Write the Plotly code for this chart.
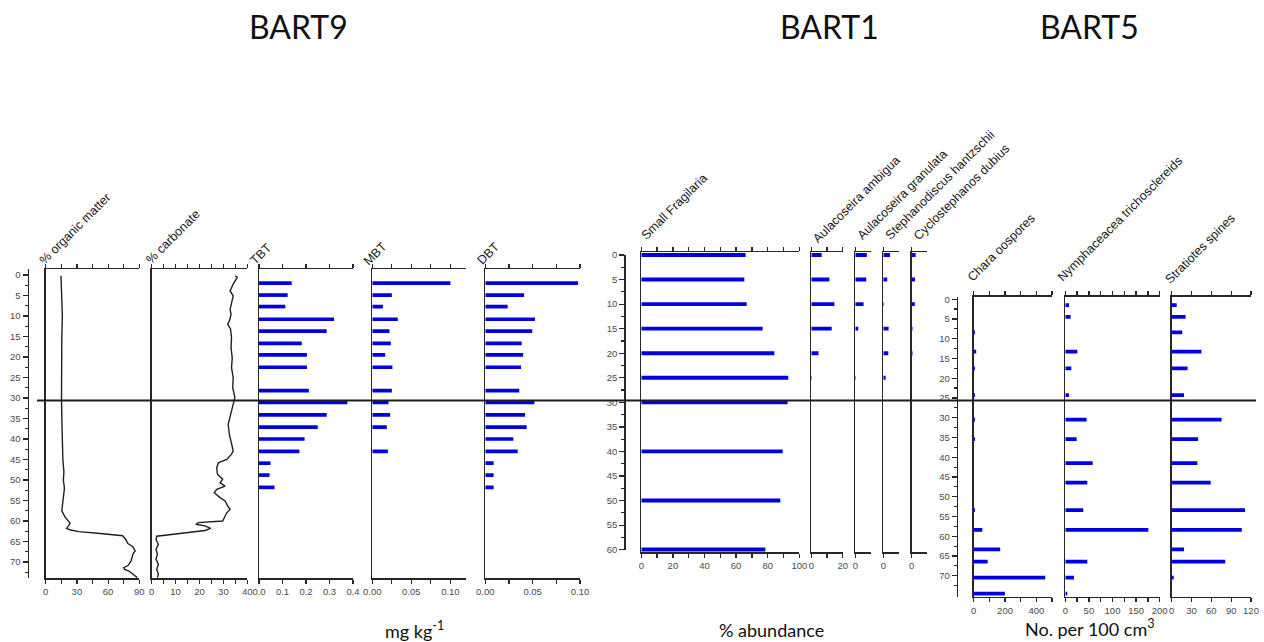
import plotly.graph_objects as go

W, H = 1264, 642

# ---------------- BART9: sediment composition and butyltins ----------------
om_depth = [0.2, 5, 10, 15, 20, 25, 30, 35, 40, 45, 48, 50, 52, 54, 56, 57.5, 59, 60.5, 61.2, 61.8,
            62.2, 62.6, 63.1, 63.6, 64.5, 65.5, 66.2, 67.3, 68, 69, 69.8, 70.8, 71.4, 71.8, 72.2, 73, 73.8]
om_pct = [14.7, 15, 16, 15.5, 15.2, 15.5, 15.2, 15.5, 15.8, 16.5, 17.5, 17, 18, 17.2, 16, 15.5, 18.5, 23.4, 22, 20,
          24, 32, 55, 74, 77, 79, 83.6, 86, 84, 82.6, 82, 79.4, 75, 76, 80, 84, 88]

carb_depth = [0.2, 0.6, 2.2, 3.9, 5.1, 6.7, 8.4, 9.6, 11.2, 12.0, 13.2, 15.3, 17.7, 20.2, 22.6, 25.0, 27.4, 29.9,
              31.5, 34.0, 36.4, 38.9, 41.3, 42.9, 43.7, 45.0, 45.8, 47.0, 48.6, 49.8, 50.7, 51.5, 52.3, 53.1,
              54.3, 55.1, 56.3, 57.2, 58.0, 59.2, 60.0, 60.4, 60.8, 61.2, 61.8, 62.3, 63.1, 63.7, 64.5, 65.7,
              66.9, 68.1, 69.3, 70.6, 71.8, 73.0, 73.8]
carb_pct = [35.0, 35.8, 34.1, 32.8, 34.1, 33.4, 32.8, 33.2, 32.5, 31.8, 33.0, 33.4, 33.2, 33.7, 33.4, 34.1, 33.9,
            34.8, 34.1, 32.8, 32.0, 32.5, 33.4, 34.1, 33.4, 31.4, 27.9, 27.2, 27.5, 29.7, 28.6, 30.7, 27.2,
            26.2, 28.6, 30.7, 31.8, 32.8, 31.4, 30.2, 29.7, 19.5, 18.5, 22.3, 24.7, 22.3, 11.8, 2.1, 1.8, 2.8,
            1.8, 2.4, 1.8, 2.8, 2.1, 2.8, 2.4]

tin_depth = [2.0, 4.9, 7.7, 10.8, 13.7, 16.7, 19.5, 22.5, 28.2, 31.1, 34.1, 37.1, 40.0, 43.0, 45.9, 48.8, 51.8]
tbt = [0.139, 0.122, 0.112, 0.319, 0.288, 0.182, 0.204, 0.204, 0.212, 0.376, 0.288, 0.25, 0.194, 0.172,
       0.049, 0.045, 0.066]
mbt = [0.100, 0.025, 0.0136, 0.0326, 0.022, 0.0237, 0.0165, 0.0258, 0.025, 0.0208, 0.0229, 0.0186, None,
       0.0199, None, None, None]
dbt = [0.098, 0.041, 0.0236, 0.0525, 0.0496, 0.0384, 0.040, 0.0377, 0.0359, 0.0518, 0.0419, 0.0437, 0.0296,
       0.0342, 0.0088, 0.0088, 0.0088]

# ---------------- BART1: diatoms (% abundance) ----------------
diatom_depth = [0, 5, 10, 15, 20, 25, 30, 40, 50, 60]
small_fragilaria = [66, 65.2, 66.7, 76.8, 84.2, 93, 92.6, 89.5, 88, 78.5]
aul_ambigua = [6.6, 11.5, 14.7, 13, 4.6, 0.4, None, None, None, None]
aul_granulata = [7.4, 7, 5.3, 1.9, None, 0.4, None, None, None, None]
steph_hantzschii = [4.3, 2.5, 0.5, 3.4, 3.2, 1.5, None, None, None, None]
cyclo_dubius = [2.5, 2.1, 2.0, 0.5, 0.5, None, None, None, None, None]

# ---------------- BART5: plant macrofossils (No. per 100 cm3) ----------------
macro_depth = [1.5, 4.5, 8.4, 13.3, 17.5, 24.3, 30.5, 35.4, 41.5, 46.4, 53.4, 58.4, 63.3, 66.4, 70.5, 74.5]
chara = [None, None, 8, 16, 8, 8, 8, 8, None, None, 8, 55, 169, 89, 457, 199]
nymphaeaceae = [7.8, 11.3, None, 25.4, 12.7, 7.8, 45, 24, 58, 46.6, 38, 176, None, 46.6, 18.4, 4.2]
stratiotes = [7.6, 21, 16, 45, 24, 18.7, 75.6, 40, 38.8, 59, 111, 106, 18.7, 81, 3, None]

AX = '#262626'
BLUE = 'rgb(0,0,225)'
TF = dict(family='Liberation Sans, Arial, sans-serif', size=9.5, color='#4a4a4a')
LABF = dict(family='Liberation Sans, Arial, sans-serif', size=12.5, color='#1a1a1a')
BIGF = dict(family='Lato, sans-serif', size=32, color='#111')
UNITF = dict(family='Lato, sans-serif', size=18, color='#111')

axes = {}
traces = []
counter = [0]


def fx(px):
    return px / W


def fy(py):
    return 1 - py / H


def new_ids():
    counter[0] += 1
    s = '' if counter[0] == 1 else str(counter[0])
    return 'x' + s, 'y' + s, 'xaxis' + s, 'yaxis' + s


def add_panel(x0, x1, ytop, ybot, yrange, xrange, tickvals, ticktext):
    xr, yr, xk, yk = new_ids()
    axes[xk] = dict(domain=[fx(x0), fx(x1)], range=xrange, anchor=yr, side='bottom', automargin=False,
                    showline=True, mirror='ticks', linecolor=AX, linewidth=1.5,
                    ticks='outside', ticklen=4, tickwidth=1.2, tickcolor=AX,
                    tickmode='array', tickvals=tickvals, ticktext=ticktext, tickfont=TF,
                    showgrid=False, zeroline=False, fixedrange=True)
    axes[yk] = dict(domain=[fy(ybot), fy(ytop)], range=yrange, anchor=xr, automargin=False,
                    showline=True, linecolor=AX, linewidth=1.5, ticks='', showticklabels=False,
                    showgrid=False, zeroline=False, fixedrange=True)
    return xr, yr


def add_depth_axis(x, ytop, ybot, yrange, last):
    xr, yr, xk, yk = new_ids()
    axes[xk] = dict(domain=[fx(x), fx(x + 1)], range=[0, 1], anchor=yr, visible=False,
                    automargin=False, fixedrange=True)
    majors = list(range(0, last + 1, 5))
    minors = [m + 2.5 for m in majors if m + 2.5 < yrange[0]]
    axes[yk] = dict(domain=[fy(ybot), fy(ytop)], range=yrange, anchor=xr, automargin=False,
                    showline=True, linecolor=AX, linewidth=1.5,
                    ticks='outside', ticklen=5, tickwidth=1.2, tickcolor=AX,
                    tickmode='array', tickvals=majors, tickfont=TF,
                    minor=dict(tickmode='array', tickvals=minors, ticks='outside', ticklen=3,
                               tickwidth=1.2, tickcolor=AX),
                    showgrid=False, zeroline=False, fixedrange=True)
    traces.append(go.Scatter(x=[None], y=[None], xaxis=xr, yaxis=yr, showlegend=False, hoverinfo='skip'))


def bars(xr, yr, depth, vals, width):
    traces.append(go.Bar(x=vals, y=depth, orientation='h', width=width, xaxis=xr, yaxis=yr,
                         marker=dict(color=BLUE, line=dict(width=0)), showlegend=False, hoverinfo='skip'))


def curve(xr, yr, depth, vals):
    traces.append(go.Scatter(x=vals, y=depth, mode='lines', xaxis=xr, yaxis=yr,
                             line=dict(color='#1f1f1f', width=1.4), showlegend=False, hoverinfo='skip'))


def labels(vals, shown, fmt):
    return [fmt.format(v) if v in shown else '' for v in vals]


# BART9 block
b9_top, b9_bot = 269, 578
b9_range = [73.9, -1.46]
add_depth_axis(29, b9_top, b9_bot, b9_range, 70)

v = [0, 15, 30, 45, 60, 75, 90]
xr, yr = add_panel(45.7, 139.3, b9_top, b9_bot, b9_range, [0, 90], v, labels(v, [0, 30, 60, 90], '{}'))
curve(xr, yr, om_depth, om_pct)

v = [0, 5, 10, 15, 20, 25, 30, 35, 40]
xr, yr = add_panel(151.7, 247.3, b9_top, b9_bot, b9_range, [0, 40], v, labels(v, [0, 10, 20, 30, 40], '{}'))
curve(xr, yr, carb_depth, carb_pct)

v = [0, 0.1, 0.2, 0.3, 0.4]
xr, yr = add_panel(259, 353, b9_top, b9_bot, b9_range, [0, 0.4], v, ['{:.1f}'.format(t) for t in v])
bars(xr, yr, tin_depth, tbt, 0.9)

v = [0, 0.025, 0.05, 0.075, 0.10]
xr, yr = add_panel(372.3, 466, b9_top, b9_bot, b9_range, [0, 0.12], v, labels(v, [0, 0.05, 0.10], '{:.2f}'))
bars(xr, yr, tin_depth, mbt, 0.9)

v = [0, 0.025, 0.05, 0.075, 0.10]
xr, yr = add_panel(485.3, 580, b9_top, b9_bot, b9_range, [0, 0.10], v, labels(v, [0, 0.05, 0.10], '{:.2f}'))
bars(xr, yr, tin_depth, dbt, 0.9)

# BART1 block
b1_top, b1_bot = 252.3, 552.3
b1_range = [60.56, -0.55]
add_depth_axis(625.7, 255, 549.7, [60, 0], 60)

v = list(range(0, 101, 10))
xr, yr = add_panel(641.3, 799.3, b1_top, b1_bot, b1_range, [0, 100], v, labels(v, [0, 20, 40, 60, 80, 100], '{}'))
bars(xr, yr, diatom_depth, small_fragilaria, 0.8)

v = [0, 10, 20]
xr, yr = add_panel(811.3, 842.7, b1_top, b1_bot, b1_range, [0, 20], v, labels(v, [0, 20], '{}'))
bars(xr, yr, diatom_depth, aul_ambigua, 0.8)

for x0, series in [(855.3, aul_granulata), (883.3, steph_hantzschii), (911.7, cyclo_dubius)]:
    xr, yr = add_panel(x0, x0 + 15.6, b1_top, b1_bot, b1_range, [0, 10], [0], ['0'])
    bars(xr, yr, diatom_depth, series, 0.8)

# BART5 block
b5_top, b5_bot = 296.7, 596.7
b5_range = [75.3, -0.63]
add_depth_axis(958.3, b5_top, b5_bot, b5_range, 70)

v = [0, 100, 200, 300, 400, 500]
xr, yr = add_panel(973.7, 1052, b5_top, b5_bot, b5_range, [0, 500], v, labels(v, [0, 200, 400], '{}'))
bars(xr, yr, macro_depth, chara, 0.95)

v = list(range(0, 201, 25))
xr, yr = add_panel(1065.3, 1159.7, b5_top, b5_bot, b5_range, [0, 200], v, labels(v, [0, 50, 100, 150, 200], '{}'))
bars(xr, yr, macro_depth, nymphaeaceae, 0.95)

v = [0, 30, 60, 90, 120]
xr, yr = add_panel(1171.7, 1251, b5_top, b5_bot, b5_range, [0, 120], v, [str(t) for t in v])
bars(xr, yr, macro_depth, stratiotes, 0.95)

# Rotated column headings (pixel centres)
headings = [
    ('% organic matter', 75, 229), ('% carbonate', 173, 237), ('TBT', 261, 254), ('MBT', 375, 254),
    ('DBT', 488, 254), ('Small Fragilaria', 674, 207), ('Aulacoseira ambigua', 857, 199),
    ('Aulacoseira granulata', 902, 195), ('Stephanodiscus hantzschii', 940, 185),
    ('Cyclostephanos dubius', 962, 192), ('Chara oospores', 1001, 248),
    ('Nymphaceacea trichosclereids', 1120, 219), ('Stratiotes spines', 1200, 249),
]
annotations = [dict(text=t, x=fx(x), y=fy(y), xref='paper', yref='paper', showarrow=False,
                    textangle=-45, xanchor='center', yanchor='middle', font=LABF)
               for t, x, y in headings]

for t, x, y in [('BART9', 298, 27), ('BART1', 829, 27), ('BART5', 1089, 27)]:
    annotations.append(dict(text=t, x=fx(x), y=fy(y), xref='paper', yref='paper', showarrow=False,
                            xanchor='center', yanchor='middle', font=BIGF))

for t, x, y in [('mg kg<sup>-1</sup>', 415, 630), ('% abundance', 771, 630),
                ('No. per 100 cm<sup>3</sup>', 1090, 628)]:
    annotations.append(dict(text=t, x=fx(x), y=fy(y), xref='paper', yref='paper', showarrow=False,
                            xanchor='center', yanchor='middle', font=UNITF))

# Zone boundary across all three cores
shapes = [dict(type='line', xref='paper', yref='paper', x0=fx(37), x1=fx(1256),
               y0=fy(400.5), y1=fy(400.5), line=dict(color='#1e1e1e', width=2))]

fig = go.Figure(data=traces)
fig.update_layout(template='none', width=W, height=H,
                  margin=dict(l=0, r=0, t=0, b=0, pad=0, autoexpand=False), autosize=False,
                  paper_bgcolor='white', plot_bgcolor='white', showlegend=False,
                  barmode='overlay', annotations=annotations, shapes=shapes, **axes)
fig.write_html('out.html', config=dict(displayModeBar=False, staticPlot=True))
